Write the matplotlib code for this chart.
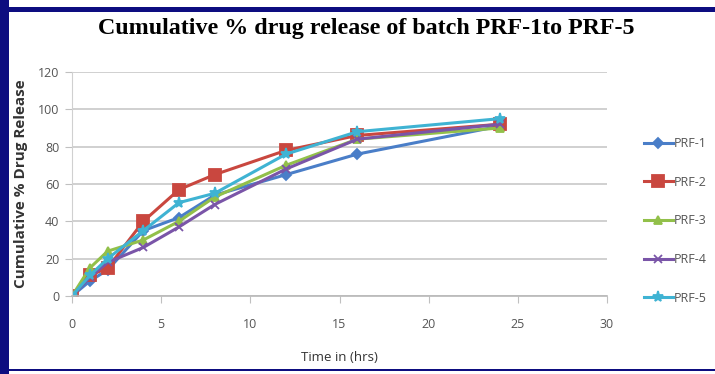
import matplotlib
matplotlib.use("Agg")
import matplotlib.pyplot as plt
from matplotlib.patches import Rectangle

time_hrs = [0, 1, 2, 4, 6, 8, 12, 16, 24]
series_names = ["PRF-1", "PRF-2", "PRF-3", "PRF-4", "PRF-5"]
prf1 = [0, 8, 14, 35, 42, 54, 65, 76, 91]
prf2 = [0, 11, 15, 40, 57, 65, 78, 86, 92]
prf3 = [0, 15, 24, 30, 40, 53, 70, 84, 90]
prf4 = [0, 10, 18, 26, 37, 49, 68, 84, 92]
prf5 = [0, 11, 20, 35, 50, 55, 76, 88, 95]
x_ticks = [0, 5, 10, 15, 20, 25, 30]
y_ticks = [0, 20, 40, 60, 80, 100, 120]

colors = ["#4A7EC8", "#C9473F", "#92C04A", "#7A55A8", "#3FB3D3"]
markers = ["D", "s", "^", "x", "*"]
msizes = [5, 8, 6, 6, 8]

fig = plt.figure(figsize=(7.15, 3.74), dpi=100)
ax = fig.add_axes([0.1007, 0.2086, 0.7483, 0.599])

for name, vals, c, m, ms in zip(series_names, [prf1, prf2, prf3, prf4, prf5], colors, markers, msizes):
    ax.plot(time_hrs, vals, color=c, marker=m, markersize=ms, linewidth=2.2,
            markeredgewidth=1.3, markeredgecolor=c, label=name)

ax.set_xlim(0, 30)
ax.set_ylim(0, 120)
ax.set_xticks(x_ticks)
ax.set_yticks(y_ticks)
ax.yaxis.grid(True, color="#c8c8c8", linewidth=1.2)
ax.set_axisbelow(True)
for s in ["top", "right"]:
    ax.spines[s].set_visible(False)
ax.spines["left"].set_color("#d0d0d0")
ax.spines["bottom"].set_color("#b8b8b8")
ax.spines["bottom"].set_linewidth(1.2)
ax.tick_params(axis="x", colors="#c0c0c0", length=5, labelcolor="#555555", labelsize=9, pad=11)
ax.tick_params(axis="y", colors="#c0c0c0", length=5, labelcolor="#555555", labelsize=9, pad=4)
for lbl in ax.get_xticklabels() + ax.get_yticklabels():
    lbl.set_fontfamily("Open Sans")

ax.set_xlabel("Time in (hrs)", fontsize=9.5, color="#333333", family="Open Sans", labelpad=14)
ax.set_ylabel("Cumulative % Drug Release", fontsize=11, fontweight="bold", color="#333333",
              family="Open Sans")
ax.yaxis.set_label_coords(-0.083, 0.5)

fig.text(0.512, 0.924, "Cumulative % drug release of batch PRF-1to PRF-5", ha="center", va="center",
         fontsize=17.3, fontweight="bold", family="Liberation Serif")

ax.legend(loc="center left", bbox_to_anchor=(1.048, 0.335), frameon=False, labelspacing=2.05,
          handlelength=2.3, handletextpad=0.1, prop={"family": "Open Sans", "size": 9},
          labelcolor="#555555")

# border
fig.add_artist(Rectangle((0, 0), 0.012, 1, transform=fig.transFigure, color="#0d0d80", lw=0))
fig.add_artist(Rectangle((0, 0.968), 1, 0.014, transform=fig.transFigure, color="#0d0d80", lw=0))
fig.add_artist(Rectangle((0, 0.007), 1, 0.006, transform=fig.transFigure, color="#0d0d80", lw=0))

fig.savefig("out.png", dpi=100)
